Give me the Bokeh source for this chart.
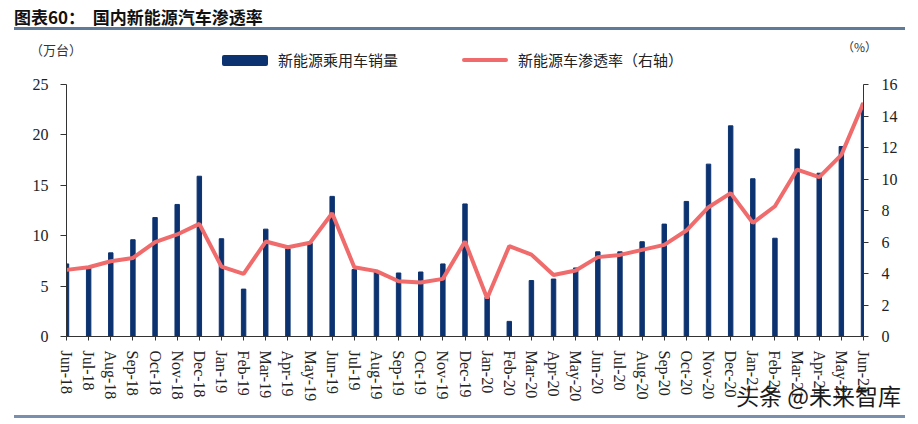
from bokeh.plotting import figure
from bokeh.models import (Range1d, LinearAxis, FixedTicker, Div, ColumnDataSource)
from bokeh.layouts import column
from bokeh.embed import file_html
from bokeh.resources import INLINE

months = ["Jun-18", "Jul-18", "Aug-18", "Sep-18", "Oct-18", "Nov-18", "Dec-18",
          "Jan-19", "Feb-19", "Mar-19", "Apr-19", "May-19", "Jun-19", "Jul-19",
          "Aug-19", "Sep-19", "Oct-19", "Nov-19", "Dec-19",
          "Jan-20", "Feb-20", "Mar-20", "Apr-20", "May-20", "Jun-20", "Jul-20",
          "Aug-20", "Sep-20", "Oct-20", "Nov-20", "Dec-20",
          "Jan-21", "Feb-21", "Mar-21", "Apr-21", "May-21", "Jun-21"]
sales = [7.2, 6.8, 8.3, 9.6, 11.8, 13.1, 15.9,
         9.7, 4.7, 10.65, 8.7, 9.25, 13.9, 6.65, 6.5, 6.3, 6.4, 7.2, 13.15,
         3.9, 1.5, 5.55, 5.7, 6.8, 8.4, 8.4, 9.4, 11.15, 13.4, 17.1, 20.9,
         15.65, 9.75, 18.6, 16.2, 18.85, 23.1]
rate = [4.23, 4.4, 4.78, 4.99, 5.99, 6.48, 7.15,
        4.44, 3.98, 6.03, 5.67, 5.95, 7.83, 4.4, 4.15, 3.51, 3.43, 3.66, 6.03,
        2.43, 5.74, 5.2, 3.91, 4.19, 5.04, 5.18, 5.5, 5.82, 6.73, 8.21, 9.1,
        7.22, 8.27, 10.6, 10.12, 11.53, 14.84]
left_ticks = [0, 5, 10, 15, 20, 25]
right_ticks = [0, 2, 4, 6, 8, 10, 12, 14, 16]
chart_title = "图表60：  国内新能源汽车渗透率"
left_unit = "（万台）"
right_unit = "（%）"
bar_name = "新能源乘用车销量"
line_name = "新能源车渗透率（右轴）"
watermark = "头条 @未来智库"

idx = list(range(len(months)))
src = ColumnDataSource(dict(x=idx, sales=sales, rate=rate))

SERIF = "Liberation Serif"
CJK = "Noto Sans CJK SC"
BAR = "#0c3370"
LINE = "#f06b6b"

# ---- top band (title, rule, units, legend) ----
top_html = f"""
<div style="position:relative;width:918px;height:70px;font-family:'{CJK}';">
 <div style="position:absolute;left:14px;top:6px;font-size:17px;font-weight:bold;
      color:#111;line-height:22px;white-space:pre;">{chart_title}</div>
 <div style="position:absolute;left:14px;top:27px;width:891px;height:3px;
      background:#5f7b99;"></div>
 <div style="position:absolute;left:30px;top:41px;font-size:13px;line-height:18px;
      color:#333;white-space:pre;">{left_unit}</div>
 <div style="position:absolute;left:222px;top:55px;width:46px;height:11px;
      background:{BAR};border-radius:2px;"></div>
 <div style="position:absolute;left:278px;top:49px;font-size:15px;line-height:22px;
      color:#222;white-space:pre;">{bar_name}</div>
 <div style="position:absolute;left:462px;top:58px;width:46px;height:4px;
      background:{LINE};border-radius:2px;"></div>
 <div style="position:absolute;left:518px;top:49px;font-size:15px;line-height:22px;
      color:#222;white-space:pre;">{line_name}</div>
 <div style="position:absolute;left:842px;top:38px;font-size:12px;line-height:18px;
      color:#333;white-space:pre;">{right_unit}</div>
</div>
"""
top = Div(text=top_html, width=918, height=70, margin=(0, 0, 0, 0))

# ---- figure ----
p = figure(width=918, height=354, x_range=Range1d(0, len(months) - 1),
           y_range=Range1d(0, 25), output_backend="svg", toolbar_location=None,
           min_border_left=66, min_border_right=55, min_border_top=14,
           min_border_bottom=88, margin=(0, 0, 0, 0))
p.title.text = ""
p.title.visible = False
p.extra_y_ranges = {"pct": Range1d(0, 16)}
p.outline_line_color = None
p.grid.visible = False
p.background_fill_color = "white"
p.border_fill_color = "white"

p.vbar(x="x", top="sales", width=0.2, color=BAR, source=src)
p.line(x="x", y="rate", y_range_name="pct", line_color=LINE, line_width=4,
       source=src)

xa = p.xaxis[0]
xa.ticker = FixedTicker(ticks=idx)
xa.major_label_overrides = {i: m for i, m in enumerate(months)}
xa.major_label_orientation = "vertical"
xa.minor_tick_line_color = None
xa.major_tick_out = 4
xa.major_tick_in = 0
xa.major_label_standoff = 10
xa.axis_line_color = "#333333"
xa.major_tick_line_color = "#333333"
xa.major_label_text_font = SERIF
xa.major_label_text_font_size = "16px"
xa.major_label_text_color = "#222222"

ya = p.yaxis[0]
ya.ticker = FixedTicker(ticks=left_ticks)
ya.minor_tick_line_color = None
ya.major_tick_out = 6
ya.major_tick_in = 0
ya.major_label_standoff = 12
ya.axis_line_color = "#333333"
ya.major_tick_line_color = "#333333"
ya.major_label_text_font = SERIF
ya.major_label_text_font_size = "16px"
ya.major_label_text_color = "#222222"

ra = LinearAxis(y_range_name="pct", ticker=FixedTicker(ticks=right_ticks))
ra.minor_tick_line_color = None
ra.major_tick_out = 5
ra.major_tick_in = 0
ra.major_label_standoff = 13
ra.axis_line_color = "#333333"
ra.major_tick_line_color = "#333333"
ra.major_label_text_font = SERIF
ra.major_label_text_font_size = "16px"
ra.major_label_text_color = "#222222"
p.add_layout(ra, "right")

# ---- bottom band (watermark + rule), pulled up over the figure's bottom border ----
bottom_html = f"""
<div style="position:relative;width:918px;height:36px;font-family:'{CJK}';">
 <div style="position:absolute;left:736px;top:-7px;font-size:23px;line-height:28px;
      color:#1a1a1a;white-space:pre;">{watermark}</div>
 <div style="position:absolute;left:14px;top:27px;width:891px;height:3px;
      background:#7890ab;"></div>
</div>
"""
bottom = Div(text=bottom_html, width=918, height=36, margin=(-36, 0, 0, 0))

layout = column(top, p, bottom, spacing=0)
open("out.html", "w").write(file_html(layout, INLINE))
